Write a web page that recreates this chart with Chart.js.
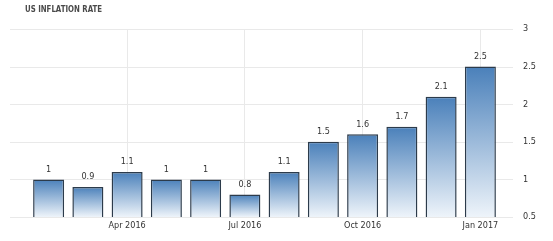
<!DOCTYPE html>
<html>
<head>
<meta charset="utf-8">
<script src="https://cdn.jsdelivr.net/npm/chart.js@4"></script>
<style>
  html, body { margin: 0; padding: 0; background: #fff; }
  #wrap { width: 553px; height: 241px; }
</style>
</head>
<body>
<div id="wrap"><canvas id="inflation" width="553" height="241"></canvas></div>
<script>
const months = ['Feb 2016', 'Mar 2016', 'Apr 2016', 'May 2016', 'Jun 2016', 'Jul 2016',
                'Aug 2016', 'Sep 2016', 'Oct 2016', 'Nov 2016', 'Dec 2016', 'Jan 2017']
const rates = [1, 0.9, 1.1, 1, 1, 0.8, 1.1, 1.5, 1.6, 1.7, 2.1, 2.5]
const shownTicks = ['Apr 2016', 'Jul 2016', 'Oct 2016', 'Jan 2017']

const FONT = "'DejaVu Sans Condensed', 'DejaVu Sans', sans-serif"

// horizontal grid runs wider than the bar area
const wideGrid = {
  id: 'wideGrid',
  beforeDatasetsDraw(chart) {
    const { ctx, scales: { y } } = chart
    ctx.save()
    ctx.strokeStyle = '#e9e9e9'
    ctx.lineWidth = 1
    y.ticks.forEach(t => {
      const py = Math.round(y.getPixelForValue(t.value)) + 0.5
      ctx.beginPath()
      ctx.moveTo(10, py)
      ctx.lineTo(513, py)
      ctx.stroke()
    })
    ctx.restore()
  }
}

const barLabels = {
  id: 'barLabels',
  afterDatasetsDraw(chart) {
    const { ctx } = chart
    const meta = chart.getDatasetMeta(0)
    ctx.save()
    ctx.font = '9px ' + FONT
    ctx.fillStyle = '#333'
    ctx.textAlign = 'center'
    ctx.textBaseline = 'middle'
    meta.data.forEach((bar, i) => {
      ctx.fillText(String(rates[i]), bar.x, bar.y - 10)
    })
    ctx.restore()
  }
}

const heading = {
  id: 'heading',
  afterDraw(chart) {
    const { ctx } = chart
    ctx.save()
    ctx.font = 'bold 9px ' + FONT
    ctx.fillStyle = '#4a4a4a'
    ctx.textBaseline = 'middle'
    ctx.fillText('US INFLATION RATE', 25, 10, 77)
    ctx.restore()
  }
}

function barFill(context) {
  const chart = context.chart
  const { ctx, chartArea, scales } = chart
  if (!chartArea || !scales.y) return '#5b8fc4'
  const v = rates[context.dataIndex]
  const top = scales.y.getPixelForValue(v)
  const bottom = scales.y.getPixelForValue(0.5)
  const g = ctx.createLinearGradient(0, top, 0, bottom)
  g.addColorStop(0, '#4a80ba')
  g.addColorStop(1, '#eef4fa')
  return g
}

new Chart(document.getElementById('inflation'), {
  type: 'bar',
  data: {
    labels: months,
    datasets: [{
      data: rates,
      backgroundColor: barFill,
      borderColor: '#2c3b4b',
      borderWidth: 1.5,
      borderSkipped: false,
      barPercentage: 0.79,
      categoryPercentage: 1
    }]
  },
  options: {
    responsive: false,
    animation: false,
    layout: { padding: { left: 29, top: 29, right: 0, bottom: 0 } },
    plugins: {
      legend: { display: false },
      tooltip: { enabled: false }
    },
    scales: {
      x: {
        offset: true,
        afterFit(scale) { scale.height = 24 },
        border: { display: false },
        grid: {
          offset: false,
          drawTicks: false,
          color: c => shownTicks.includes(months[c.index]) ? '#e9e9e9' : 'rgba(0,0,0,0)'
        },
        ticks: {
          autoSkip: false,
          maxRotation: 0,
          padding: 3,
          color: '#333',
          font: { family: FONT, size: 9 },
          callback: (v, i) => shownTicks.includes(months[i]) ? months[i] : ''
        }
      },
      y: {
        position: 'right',
        min: 0.5,
        max: 3,
        afterFit(scale) { scale.width = 53 },
        border: { display: false },
        grid: { display: false },
        ticks: {
          stepSize: 0.5,
          padding: 15,
          color: '#333',
          font: { family: FONT, size: 9 },
          callback: v => String(v)
        }
      }
    }
  },
  plugins: [wideGrid, barLabels, heading]
})
</script>
</body>
</html>
